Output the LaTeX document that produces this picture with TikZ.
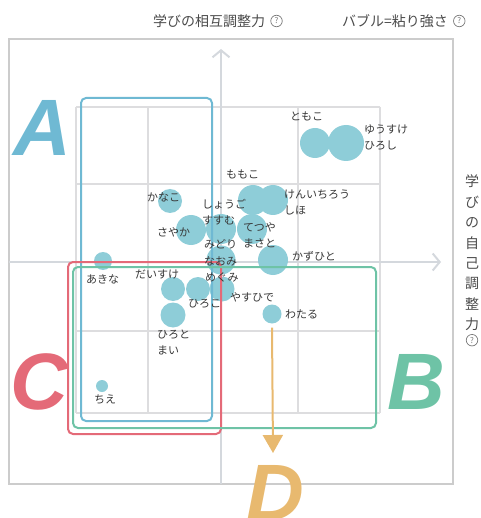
\documentclass[tikz,border=0pt]{standalone}
\usepackage{fontspec}
\setmainfont{Noto Sans CJK JP}
\newfontfamily\letterfont{Liberation Sans}
\usetikzlibrary{arrows.meta,positioning}
\definecolor{bubblecol}{RGB}{142,205,216}
\definecolor{namecol}{RGB}{55,55,55}
\definecolor{gridcol}{RGB}{221,221,223}
\definecolor{axiscol}{RGB}{212,216,221}
\definecolor{framecol}{RGB}{204,204,204}
\definecolor{qcol}{RGB}{120,120,120}
\definecolor{acol}{RGB}{111,185,211}
\definecolor{bcol}{RGB}{110,195,166}
\definecolor{ccol}{RGB}{228,106,120}
\definecolor{dcol}{RGB}{232,185,111}
\newcommand{\kidfont}{\fontsize{11}{16}\selectfont}
\newcommand{\headfont}{\fontsize{14}{20.4}\selectfont}

\begin{document}
\begin{tikzpicture}[x=1pt, y=-1pt,
    bubble/.style={circle,inner sep=0pt,fill=bubblecol},
    kid/.style={font=\kidfont,text=namecol,inner sep=0pt,anchor=west,align=left},
    head/.style={font=\headfont,text=namecol!90,inner sep=0pt},
    qicon/.style={circle,draw=qcol,line width=0.7pt,inner sep=0pt,minimum size=11.5pt,font=\fontsize{8}{8}\selectfont,text=qcol},
    groupbox/.style={rounded corners=5pt,line width=2pt},
    bigletter/.style={font=\fontsize{80}{80}\letterfont\bfseries\itshape,inner sep=0pt,anchor=base west},
    axis/.style={draw=axiscol,line width=2pt,-{Straight Barb[length=7pt,width=17pt]}},
   ]
    \useasboundingbox (0,0) rectangle (480,518);

    % frame and grid
    \draw[framecol, line width=1.2pt] (9,39) rectangle (453,484);
    \foreach \gx in {76,148,298,380}
      \draw[gridcol, line width=1.2pt] (\gx,107) -- (\gx,413);
    \foreach \gy in {107,184,331,413}
      \draw[gridcol, line width=1.2pt] (76,\gy) -- (380,\gy);

    % axes
    \coordinate (ybot) at (221,484);
    \coordinate (ytop) at (221,49);
    \coordinate (xleft) at (9,262);
    \coordinate (xright) at (441,262);
    \draw[axis] (ybot) -- (ytop);
    \draw[axis] (xleft) -- (xright);

    % bubbles
    \node (tomoko)   [bubble,minimum size=30pt] at (315,143) {};
    \node (yusuke)   [bubble,minimum size=36pt] at (346,143) {};
    \node (momoko)   [bubble,minimum size=30pt] at (253,200) {};
    \node (kenichiro)[bubble,minimum size=30pt] at (273,200) {};
    \node (kanako)   [bubble,minimum size=24pt] at (170,201) {};
    \node (sayaka)   [bubble,minimum size=30pt] at (191,230) {};
    \node (shogo)    [bubble,minimum size=30pt] at (221,229) {};
    \node (tetsuya)  [bubble,minimum size=30pt] at (252,229) {};
    \node (naomi)    [bubble,minimum size=29pt] at (221,260) {};
    \node (kazuhito) [bubble,minimum size=30pt] at (273,260) {};
    \node (akina)    [bubble,minimum size=18pt] at (103,261) {};
    \node (daisuke)  [bubble,minimum size=24pt] at (173,289) {};
    \node (hiroko)   [bubble,minimum size=24pt] at (198,289) {};
    \node (megumi)   [bubble,minimum size=25pt] at (222,289) {};
    \node (wataru)   [bubble,minimum size=19pt] at (272,314) {};
    \node (hiroto)   [bubble,minimum size=25pt] at (173,315) {};
    \node (chie)     [bubble,minimum size=12pt] at (102,386) {};

    % groups
    \draw[groupbox, acol] (81,98) rectangle (212,421);
    \draw[groupbox, ccol] (68,262) rectangle (221,434);
    \draw[groupbox, bcol] (73,267) rectangle (376,428);
    \coordinate (dend) at (273,453);
    \draw[dcol, line width=2pt, -{Triangle[length=18pt,width=20pt]}] (wataru.south) ++(0,4) -- (dend);

    % names
    \node (lbl-tomoko)   [kid] at (290,116) {ともこ};
    \node (lbl-yusuke)   [kid] at (364,138) {ゆうすけ\\ひろし};
    \node (lbl-momoko)   [kid] at (226,174) {ももこ};
    \node (lbl-kenichiro)[kid] at (284,202) {けんいちろう\\しほ};
    \node (lbl-kanako)   [kid] at (147,197) {かなこ};
    \node (lbl-shogo)    [kid] at (202,212) {しょうご\\すすむ};
    \node (lbl-sayaka)   [kid] at (157,232) {さやか};
    \node (lbl-tetsuya)  [kid] at (243,235) {てつや\\まさと};
    \node (lbl-midori)   [kid] at (204,244) {みどり};
    \node (lbl-naomi)    [kid] at (204,261) {なおみ};
    \node (lbl-kazuhito) [kid] at (292,256) {かずひと};
    \node (lbl-akina)    [kid] at (86,279) {あきな};
    \node (lbl-daisuke)  [kid] at (135,274) {だいすけ};
    \node (lbl-megumi)   [kid] at (205,277) {めぐみ};
    \node (lbl-yasuhide) [kid] at (230,297) {やすひで};
    \node (lbl-hiroko)   [kid] at (188,304) {ひろこ};
    \node (lbl-wataru)   [kid] at (285,314) {わたる};
    \node (lbl-hiroto)   [kid] at (157,342) {ひろと\\まい};
    \node (lbl-chie)     [kid] at (94,400) {ちえ};

    % axis titles
    \node (mutual) [head,anchor=west] at (153,21) {学びの相互調整力};
    \node (qmutual) [qicon,right=5pt of mutual] {?};
    \node (grit) [head,anchor=west] at (342,21) {バブル=粘り強さ};
    \node (qgrit) [qicon,right=5pt of grit] {?};
    \node (selfreg) [head,align=center] at (472,253) {学\\び\\の\\自\\己\\調\\整\\力};
    \node (qself) [qicon,below=3pt of selfreg] {?};

    % quadrant letters
    \node (letA) [bigletter,text=acol] at (13,156) {A};
    \node (letB) [bigletter,text=bcol] at (387,409) {B};
    \node (letC) [bigletter,text=ccol] at (10,409) {C};
    \node (letD) [bigletter,text=dcol] at (246,520) {D};
  \end{tikzpicture}
\end{document}
